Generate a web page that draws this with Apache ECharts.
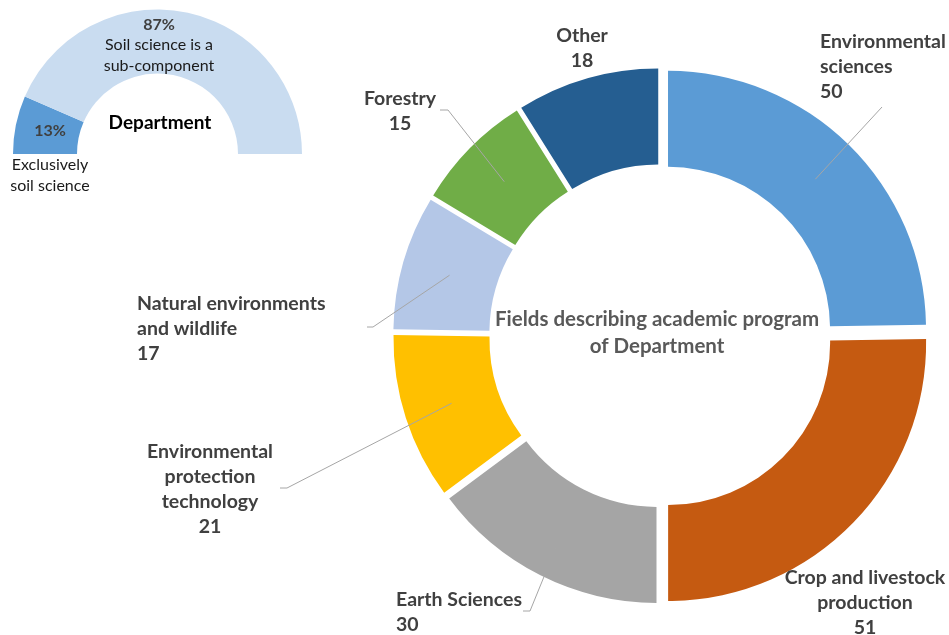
<!DOCTYPE html>
<html>
<head>
<meta charset="utf-8">
<script src="https://cdn.jsdelivr.net/npm/echarts@6/dist/echarts.min.js"></script>
<style>
html,body{margin:0;padding:0;background:#fff;}
#chart{width:949px;height:635px;}
</style>
</head>
<body>
<div id="chart"></div>
<script>
// ---- data ----
const fieldNames = ['Environmental sciences', 'Crop and livestock production', 'Earth Sciences',
  'Environmental protection technology', 'Natural environments and wildlife', 'Forestry', 'Other'];
const fieldLabelLines = [['Environmental', 'sciences'], ['Crop and livestock', 'production'], ['Earth Sciences'],
  ['Environmental', 'protection', 'technology'], ['Natural environments', 'and wildlife'], ['Forestry'], ['Other']];
const fieldCounts = [50, 51, 30, 21, 17, 15, 18];
const deptTypes = ['Exclusively soil science', 'Soil science is a sub-component'];
const deptTypeLines = [['Exclusively', 'soil science'], ['Soil science is a', 'sub-component']];
const deptShares = [13, 87];
const mainTitle = 'Fields describing academic program\nof Department';
const semiTitle = 'Department';

// ---- styles / layout ----
const fieldColors = ['#5B9BD5', '#C55A11', '#A5A5A5', '#FFC000', '#B4C7E7', '#70AD47', '#255E91'];
const deptColors = ['#5B9BD5', '#C9DCF0'];
const FONT = 'Lato, "Open Sans", sans-serif';
const fieldLabelLayout = [
  { x: 820, y: 29.5, align: 'left', line: [[882, 107], [882, 107]] },
  { x: 865, y: 565.5, align: 'center', line: null },
  { x: 396, y: 587.5, align: 'left', line: [[530, 611], [523, 611]] },
  { x: 210, y: 439.5, align: 'center', line: [[287, 488], [280, 488]] },
  { x: 137, y: 291.5, align: 'left', line: [[373, 327], [367, 327]] },
  { x: 400, y: 86.5, align: 'center', line: [[448, 110], [440, 110]] },
  { x: 582, y: 23.5, align: 'center', line: null }
];
const deptLabelLayout = [
  { x: 50, y: 122, align: 'center' },
  { x: 159, y: 16, align: 'center' }
];

const chart = echarts.init(document.getElementById('chart'), null, { renderer: 'canvas' });

const mainData = fieldCounts.map((v, i) => ({
  name: fieldNames[i], value: v, selected: true,
  itemStyle: { color: fieldColors[i] }
}));
const labelData = fieldCounts.map((v, i) => ({
  name: fieldNames[i], value: v,
  labelLine: { show: !!fieldLabelLayout[i].line }
}));

chart.setOption({
  animation: false,
  backgroundColor: '#ffffff',
  title: [
    {
      text: mainTitle, left: 657, top: 306, textAlign: 'center', padding: 0,
      textStyle: { fontFamily: FONT, fontSize: 20.5, fontWeight: 'bold', color: '#595959', lineHeight: 27 }
    },
    {
      text: semiTitle, left: 160, top: 111, textAlign: 'center', padding: 0,
      textStyle: { fontFamily: FONT, fontSize: 19, fontWeight: 'bold', color: '#000000', lineHeight: 24 }
    }
  ],
  series: [
    {
      type: 'pie', name: 'fields', center: [661, 336], radius: [162, 258],
      startAngle: 90, clockwise: true, z: 2,
      selectedMode: 'multiple', selectedOffset: 10,
      silent: true, emphasis: { disabled: true },
      select: { itemStyle: { borderWidth: 0 } },
      label: { show: false }, labelLine: { show: false },
      data: mainData
    },
    {
      type: 'pie', name: 'fieldLabels', center: [661, 336], radius: [0, 220],
      startAngle: 90, clockwise: true, silent: true, emphasis: { disabled: true },
      avoidLabelOverlap: false, z: 6,
      itemStyle: { color: 'rgba(0,0,0,0)' },
      label: {
        show: true, position: 'outside',
        formatter: p => fieldLabelLines[p.dataIndex].map(s => '{t|' + s + '}').join('\n') + '\n{t|' + p.value + '}',
        rich: { t: { fontFamily: FONT, fontSize: 19.5, fontWeight: 'bold', color: '#404040', lineHeight: 25 } }
      },
      labelLine: { show: true, length: 10, length2: 5, lineStyle: { color: '#A6A6A6', width: 1 } },
      labelLayout: function (params) {
        const L = fieldLabelLayout[params.dataIndex];
        const out = { x: L.x, y: L.y, align: L.align, verticalAlign: 'top' };
        if (L.line && params.labelLinePoints) {
          out.labelLinePoints = [params.labelLinePoints[0], L.line[0], L.line[1]];
        }
        return out;
      },
      data: labelData
    },
    {
      type: 'pie', name: 'department', center: [157.5, 154], radius: [80.5, 144.5],
      startAngle: 180, endAngle: 0, clockwise: true, silent: true, emphasis: { disabled: true },
      avoidLabelOverlap: false,
      label: {
        show: true, position: 'inside',
        formatter: p => p.dataIndex === 0
          ? '{p|' + p.value + '%}\n{g|}\n' + deptTypeLines[0].map(s => '{n|' + s + '}').join('\n')
          : '{p|' + p.value + '%}\n' + deptTypeLines[1].map(s => '{n|' + s + '}').join('\n'),
        rich: {
          p: { fontFamily: FONT, fontSize: 16, fontWeight: 'bold', color: '#404040', lineHeight: 18 },
          g: { fontSize: 10, lineHeight: 14.5 },
          n: { fontFamily: FONT, fontSize: 16, color: '#1a1a1a', lineHeight: 21 }
        }
      },
      labelLine: { show: false },
      labelLayout: function (params) {
        const L = deptLabelLayout[params.dataIndex];
        return { x: L.x, y: L.y, align: L.align, verticalAlign: 'top' };
      },
      data: deptShares.map((v, i) => ({ name: deptTypes[i], value: v, itemStyle: { color: deptColors[i] } }))
    }
  ]
});
</script>
</body>
</html>
